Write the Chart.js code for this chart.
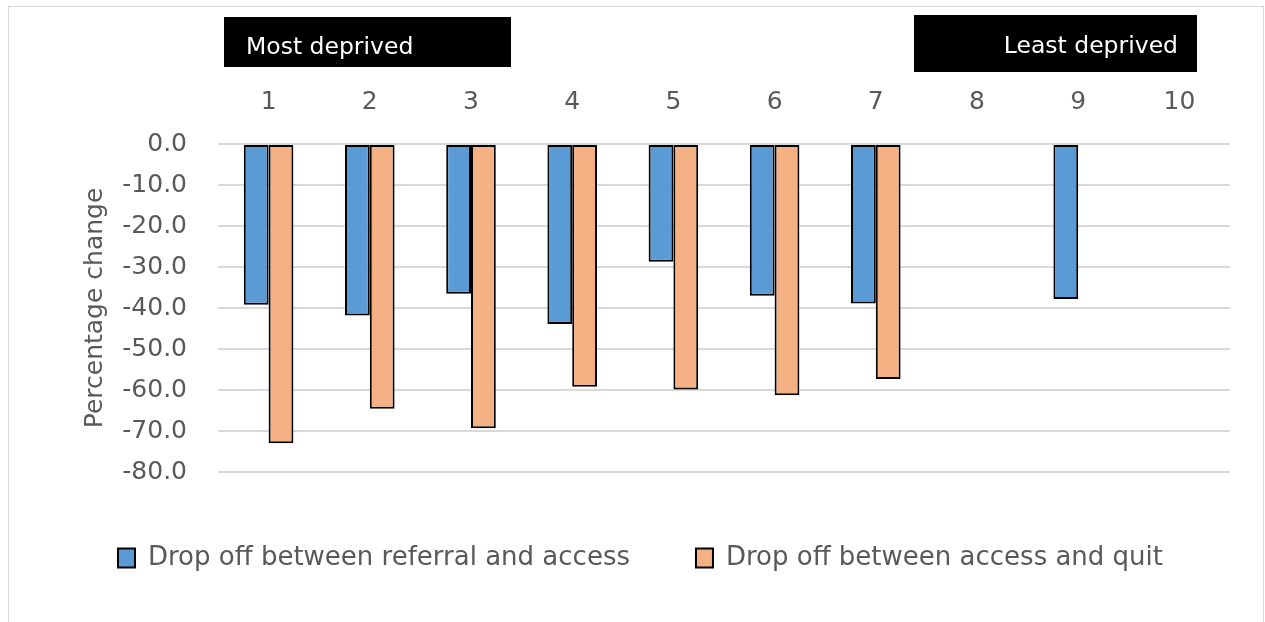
<!DOCTYPE html>
<html>
<head>
<meta charset="utf-8">
<title>Drop off by deprivation decile</title>
<script src="https://cdn.jsdelivr.net/npm/chart.js@4/dist/chart.umd.min.js"></script>
<style>
  html, body { margin: 0; padding: 0; background: #ffffff; }
  #wrap { position: relative; width: 1265px; height: 622px; overflow: hidden; }
  #frame { position: absolute; left: 8px; top: 6px; width: 1256px; height: 640px;
           border: 1px solid #d9d9d9; box-sizing: border-box; }
  #chart { position: absolute; left: 0; top: 0; }
</style>
</head>
<body>
<div id="wrap">
  <div id="frame"></div>
  <canvas id="chart" width="1265" height="622"></canvas>
</div>
<script>
// Deprivation deciles (1 = most deprived, 10 = least deprived)
const deciles = ['1', '2', '3', '4', '5', '6', '7', '8', '9', '10'];

// Percentage change at each stage of the pathway
const referralToAccess = [-39.2, -41.8, -36.5, -43.9, -28.7, -37.0, -38.9, null, -37.8, null];
const accessToQuit     = [-73.0, -64.6, -69.3, -59.2, -59.9, -61.3, -57.3, null, null, null];

const seriesNames = ['Drop off between referral and access', 'Drop off between access and quit'];
const yMin = -80, yMax = 0, yStep = 10;

const bandLabels = ['Most deprived', 'Least deprived'];

const FONT = '"DejaVu Sans", sans-serif';
const GREY_TEXT = '#595959';

// Black caption boxes marking both ends of the decile scale
const bandCaptions = {
  id: 'bandCaptions',
  afterDraw(chart) {
    const ctx = chart.ctx;
    ctx.save();
    ctx.fillStyle = '#000000';
    ctx.fillRect(224, 17, 287, 50);
    ctx.fillRect(914, 15, 283, 57);
    ctx.fillStyle = '#ffffff';
    ctx.font = '23.5px ' + FONT;
    ctx.textBaseline = 'alphabetic';
    ctx.textAlign = 'left';
    ctx.fillText(bandLabels[0], 246, 54);
    ctx.textAlign = 'right';
    ctx.fillText(bandLabels[1], 1178, 53);
    ctx.restore();
  }
};

new Chart(document.getElementById('chart'), {
  type: 'bar',
  data: {
    labels: deciles,
    datasets: [
      {
        label: seriesNames[0],
        data: referralToAccess,
        backgroundColor: '#5b9bd5',
        borderColor: '#000000',
        borderWidth: 2,
        borderSkipped: false
      },
      {
        label: seriesNames[1],
        data: accessToQuit,
        backgroundColor: '#f4b183',
        borderColor: '#000000',
        borderWidth: 2,
        borderSkipped: false
      }
    ]
  },
  options: {
    responsive: false,
    animation: false,
    devicePixelRatio: 1,
    layout: { padding: { left: 51, right: 35, top: 0, bottom: 41 } },
    datasets: { bar: { barPercentage: 1.0, categoryPercentage: 0.49 } },
    scales: {
      x: {
        position: 'top',
        grid: { display: false, drawTicks: false },
        border: { display: false },
        ticks: { color: GREY_TEXT, font: { family: FONT, size: 25 }, padding: 27 },
        afterFit(scale) { scale.height = 144; }
      },
      y: {
        min: yMin,
        max: yMax,
        grid: { color: '#d9d9d9', lineWidth: 2, drawTicks: false },
        border: { display: false },
        ticks: {
          stepSize: yStep,
          color: GREY_TEXT,
          font: { family: FONT, size: 25 },
          padding: 31,
          callback: (v) => (v === 0 ? 0 : v).toFixed(1)
        },
        title: {
          display: true,
          text: 'Percentage change',
          color: GREY_TEXT,
          font: { family: FONT, size: 25 },
          padding: { top: 29, bottom: 0 }
        },
        afterFit(scale) { scale.width = 167; }
      }
    },
    plugins: {
      legend: {
        position: 'bottom',
        // empty title only adds a little space above the legend row
        title: { display: true, text: '', font: { size: 5 }, padding: { top: 1, bottom: 0 } },
        labels: {
          color: GREY_TEXT,
          font: { family: FONT, size: 26 },
          boxWidth: 17,
          boxHeight: 19,
          padding: 66
        }
      },
      tooltip: { enabled: false }
    }
  },
  plugins: [bandCaptions]
});
</script>
</body>
</html>
